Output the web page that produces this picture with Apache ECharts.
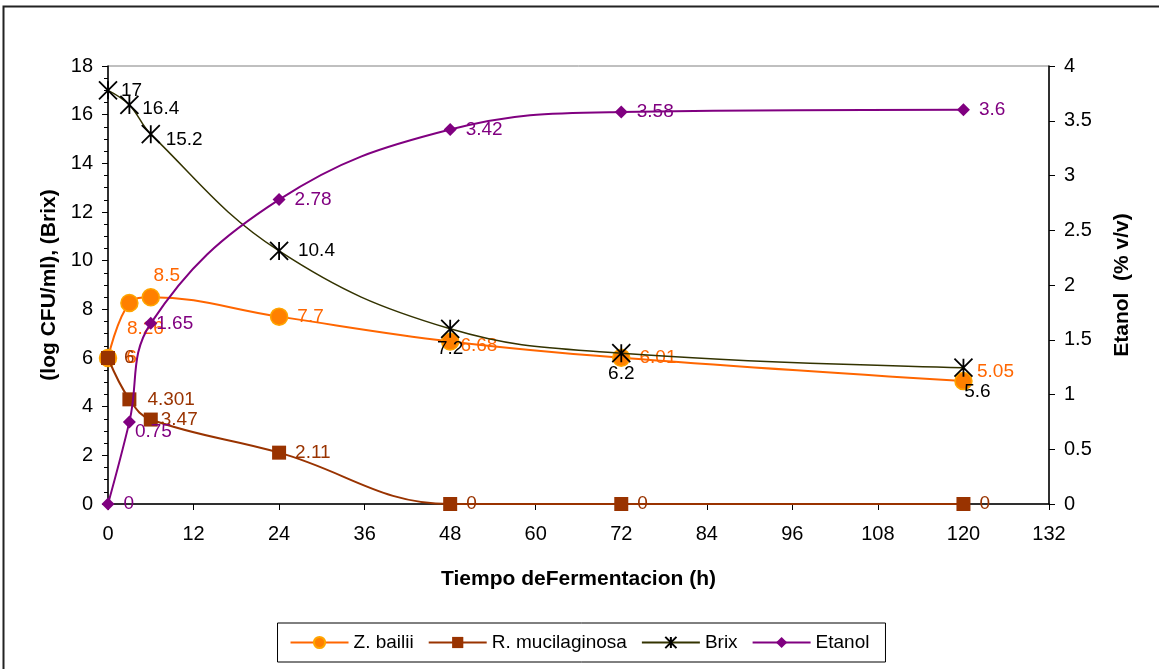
<!DOCTYPE html>
<html>
<head>
<meta charset="utf-8">
<script src="https://cdn.jsdelivr.net/npm/echarts@6/dist/echarts.min.js"></script>
<style>
  html, body { margin: 0; padding: 0; background: #fff; }
  #chart { width: 1159px; height: 669px; }
</style>
</head>
<body>
<div id="chart"></div>
<script>
// datos
const horas = [0, 3, 6, 24, 48, 72, 120];
const zBailii = [6, 8.26, 8.5, 7.7, 6.68, 6.01, 5.05];
const rMucilaginosa = [6, 4.301, 3.47, 2.11, 0, 0, 0];
const brix = [17, 16.4, 15.2, 10.4, 7.2, 6.2, 5.6];
const etanol = [0, 0.75, 1.65, 2.78, 3.42, 3.58, 3.6];

// posicion de cada etiqueta (solo estilo)
const posZ = [['right', [4, 0]], ['bottom', [16, 2]], ['top', [16, 2]], ['right', [4, 0]], ['right', [-4, 4]], ['right', [4, 0]], ['top', [32, 14]]];
const posR = [['right', [4, 0]], ['right', [6, 0]], ['right', [-2, 0]], ['right', [4, 0]], ['right', [4, 0]], ['right', [4, 0]], ['right', [4, 0]]];
const posB = [['right', [-2, 0]], ['right', [-2, 4]], ['right', [0, 6]], ['right', [4, 0]], ['bottom', [0, -4]], ['bottom', [0, -4]], ['bottom', [14, 0]]];
const posE = [['right', [4, 0]], ['right', [-6, 10]], ['right', [-6, 0]], ['right', [4, 0]], ['right', [4, 0]], ['right', [4, 0]], ['right', [4, 0]]];

const FONT = 'Liberation Sans, Arial, sans-serif';

function puntos(ys, pos) {
  return ys.map((y, i) => ({
    value: [horas[i], y],
    label: { position: pos[i][0], offset: pos[i][1] }
  }));
}

function etiqueta(color) {
  return { show: true, color: color, fontSize: 19, fontFamily: FONT, formatter: p => String(p.value[1]) };
}

const chart = echarts.init(document.getElementById('chart'));
chart.setOption({
  animation: false,
  backgroundColor: '#fff',
  textStyle: { fontFamily: FONT },
  graphic: [{
    type: 'rect',
    shape: { x: 3.5, y: 6.5, width: 1170, height: 700 },
    style: { fill: 'none', stroke: '#222', lineWidth: 2 },
    silent: true
  }],
  grid: {
    left: 108, right: 110, top: 66, bottom: 165,
    show: true, borderColor: '#808080', borderWidth: 1, backgroundColor: 'transparent'
  },
  legend: {
    bottom: 7, left: 'center',
    itemGap: 14, itemWidth: 58, itemHeight: 14,
    padding: [10, 16, 10, 12],
    borderColor: '#000', borderWidth: 1,
    textStyle: { fontSize: 19, color: '#000', fontFamily: FONT },
    data: ['Z. bailii', 'R. mucilaginosa', 'Brix', 'Etanol']
  },
  xAxis: {
    type: 'value', min: 0, max: 132, interval: 12,
    name: 'Tiempo deFermentacion (h)', nameLocation: 'middle', nameGap: 65,
    nameTextStyle: { fontSize: 21, fontWeight: 'bold', color: '#000' },
    axisLine: { show: true, lineStyle: { color: '#000', width: 1.5 } },
    axisTick: { show: true, length: 6, lineStyle: { color: '#000' } },
    axisLabel: { fontSize: 20, color: '#000', margin: 20 },
    splitLine: { show: false }
  },
  yAxis: [{
    type: 'value', min: 0, max: 18, interval: 2,
    name: '(log CFU/ml), (Brix)', nameLocation: 'middle', nameGap: 48, nameRotate: 90,
    nameTextStyle: { fontSize: 21, fontWeight: 'bold', color: '#000' },
    axisLine: { show: true, lineStyle: { color: '#000', width: 1.5 } },
    axisTick: { show: true, length: 6, lineStyle: { color: '#000' } },
    minorTick: { show: true, splitNumber: 4, length: 4, lineStyle: { color: '#000' } },
    axisLabel: { fontSize: 20, color: '#000', margin: 15 },
    splitLine: { show: false }
  }, {
    type: 'value', min: 0, max: 4, interval: 0.5, position: 'right',
    name: 'Etanol  (% v/v)', nameLocation: 'middle', nameGap: 63, nameRotate: 90,
    nameTextStyle: { fontSize: 21, fontWeight: 'bold', color: '#000' },
    axisLine: { show: true, lineStyle: { color: '#000', width: 1.5 } },
    axisTick: { show: true, length: 6, lineStyle: { color: '#000' } },
    axisLabel: { fontSize: 20, color: '#000', margin: 15 },
    splitLine: { show: false }
  }],
  series: [{
    name: 'Z. bailii', type: 'line', smooth: 0.4,
    data: puntos(zBailii, posZ),
    symbol: 'circle', symbolSize: 17,
    lineStyle: { color: '#FF6600', width: 2 },
    itemStyle: { color: '#FF8000', borderColor: '#FFA500', borderWidth: 1.5 },
    label: etiqueta('#FF6600'), z: 2
  }, {
    name: 'R. mucilaginosa', type: 'line', smooth: 0.4,
    data: puntos(rMucilaginosa, posR),
    symbol: 'rect', symbolSize: 14,
    lineStyle: { color: '#993300', width: 2 },
    itemStyle: { color: '#993300' },
    label: etiqueta('#993300'), z: 3
  }, {
    name: 'Brix', type: 'line', smooth: 0.4,
    data: puntos(brix, posB),
    symbol: 'path://M0,0L10,10M10,0L0,10M5,0L5,10', symbolSize: 18,
    lineStyle: { color: '#333300', width: 1.5 },
    itemStyle: { color: '#000', borderColor: '#000', borderWidth: 1.8 },
    label: etiqueta('#000'), z: 4
  }, {
    name: 'Etanol', type: 'line', smooth: 0.4, yAxisIndex: 1,
    data: puntos(etanol, posE),
    symbol: 'diamond', symbolSize: 13,
    lineStyle: { color: '#800080', width: 2 },
    itemStyle: { color: '#800080' },
    label: etiqueta('#800080'), z: 5
  }]
});
</script>
</body>
</html>
